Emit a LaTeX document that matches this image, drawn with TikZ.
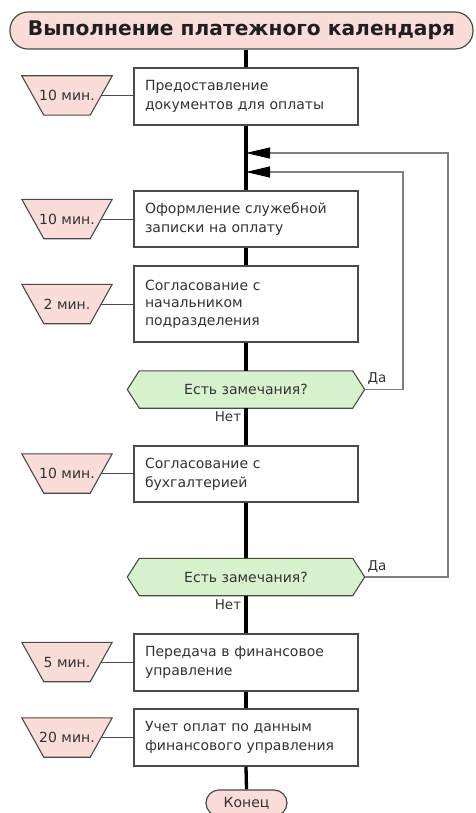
\documentclass[tikz,border=0pt]{standalone}
\usepackage{fontspec}
\setmainfont{DejaVu Sans}
\usetikzlibrary{backgrounds,arrows.meta}
\definecolor{pinkf}{HTML}{FADCD8}
\definecolor{greenf}{HTML}{D6F3CE}
\definecolor{txt}{HTML}{333333}
\definecolor{edge}{HTML}{4A4A4A}
\definecolor{loopc}{HTML}{808080}
\begin{document}
\begin{tikzpicture}[x=1pt,y=-1pt,
  title/.style={draw=edge, line width=1.2pt, fill=pinkf, rounded corners=18pt,
    minimum width=463pt, minimum height=37pt, inner sep=0pt,
    font=\bfseries\fontsize{20.2}{24}\selectfont, text=black!88},
  box/.style={draw=edge, line width=1.2pt, fill=white, minimum width=224pt,
    text width=202pt, inner xsep=11pt, inner ysep=0pt, align=left,
    font=\fontsize{14}{19}\selectfont, text=txt},
  tz/.style={minimum width=68pt, minimum height=39pt, inner sep=0pt,
    font=\fontsize{14}{16}\selectfont, text=txt},
  dec/.style={minimum width=237pt, minimum height=37pt, inner sep=0pt,
    font=\fontsize{14}{16}\selectfont, text=txt},
  endn/.style={draw=edge, line width=1.2pt, fill=pinkf, rounded corners=13pt,
    minimum width=81pt, minimum height=26pt, inner sep=0pt,
    font=\fontsize{14}{16}\selectfont, text=txt},
  lbl/.style={font=\fontsize{13.5}{16}\selectfont, text=txt, inner sep=0pt},
  shapeln/.style={draw=edge, line width=1.1pt},
  mainl/.style={line width=3.3pt, black},
  tline/.style={line width=1pt, edge},
  loopl/.style={line width=1.2pt, loopc},
  arr/.style={-{Triangle[length=24pt,width=11pt,color=black]}}
]
\useasboundingbox (0,0) rectangle (475,813);

% title
\node[title] (title) at (241.5,30.5) {Выполнение платежного календаря};

% boxes
\node[box, minimum height=57pt] (b1) at (246,96.5) {Предоставление\\документов для оплаты};
\node[box, minimum height=56pt] (b2) at (246,219) {Оформление служебной\\записки на оплату};
\node[box, minimum height=76pt, font=\fontsize{14}{17.5}\selectfont] (b3) at (246,304) {Согласование с\\начальником\\подразделения};
\node[box, minimum height=56pt] (b4) at (246,474) {Согласование с\\бухгалтерией};
\node[box, minimum height=57pt] (b5) at (246,662.5) {Передача в финансовое\\управление};
\node[box, minimum height=57pt] (b6) at (246,737.5) {Учет оплат по данным\\финансового управления};

% durations
\node[tz] (t1) at (67,95.5) {10 мин.};
\node[tz] (t2) at (67,219) {10 мин.};
\node[tz] (t3) at (67,304) {2 мин.};
\node[tz] (t4) at (67,473.5) {10 мин.};
\node[tz] (t5) at (67,662) {5 мин.};
\node[tz] (t6) at (67,737.5) {20 мин.};

% decisions
\node[dec] (d1) at (246,389.5) {Есть замечания?};
\node[dec] (d2) at (246,577) {Есть замечания?};

% end
\node[endn] (end) at (246.5,803) {Конец};

% labels
\node[lbl] (da1) at (377,379) {Да};
\node[lbl] (da2) at (377,567) {Да};
\node[lbl] (net1) at (228,417) {Нет};
\node[lbl] (net2) at (228,605) {Нет};

% junction points on the main line and loop corners
\coordinate (j1) at (246,153);
\coordinate (j2) at (246,172);
\coordinate (r1) at (403,172);
\coordinate (r2) at (448,153);

\begin{scope}[on background layer]
  \foreach \t in {t1,t2,t3,t4,t5,t6}
    \draw[shapeln, fill=pinkf] ([xshift=-11pt]\t.north west) -- ([xshift=11pt]\t.north east)
      -- ([xshift=-11pt]\t.south east) -- ([xshift=11pt]\t.south west) -- cycle;
  \foreach \d in {d1,d2}
    \draw[shapeln, fill=greenf] (\d.west) -- ([xshift=12pt]\d.north west)
      -- ([xshift=-12pt]\d.north east) -- (\d.east)
      -- ([xshift=-12pt]\d.south east) -- ([xshift=12pt]\d.south west) -- cycle;
\end{scope}

% main flow line
\draw[mainl] (title.south -| b1.north) -- (b1.north);
\draw[mainl] (b1.south) -- (b2.north);
\draw[mainl] (b2.south) -- (b3.north);
\draw[mainl] (b3.south) -- (d1.north);
\draw[mainl] (d1.south) -- (b4.north);
\draw[mainl] (b4.south) -- (d2.north);
\draw[mainl] (d2.south) -- (b5.north);
\draw[mainl] (b5.south) -- (b6.north);
\draw[mainl] (b6.south) -- (end.north);

% duration connectors
\foreach \i in {1,...,6}
  \draw[tline] (t\i.east) -- (t\i.east -| b\i.west);

% loops back
\draw[loopl, arr] (d1.east) -| (r1) -- (j2);
\draw[loopl, arr] (d2.east) -| (r2) -- (j1);
\end{tikzpicture}
\end{document}
